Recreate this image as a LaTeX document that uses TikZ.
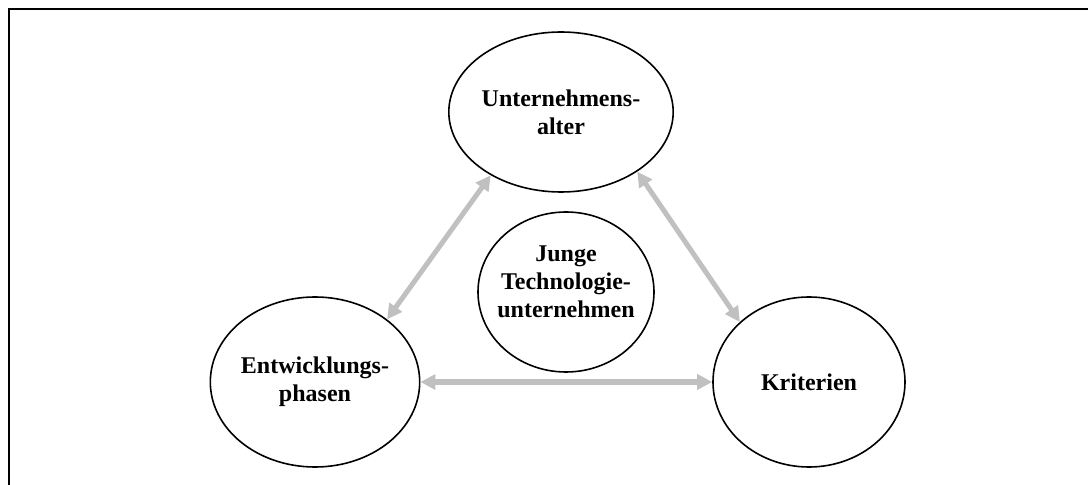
\documentclass[tikz,border=0pt]{standalone}
\usepackage{fontspec}
\setmainfont{Liberation Serif}
\usetikzlibrary{shapes.geometric,arrows.meta}
\definecolor{linkgray}{RGB}{192,192,192}
\begin{document}
\begin{tikzpicture}[x=1bp,y=-1bp,
  bubbletext/.style={inner sep=0pt, align=center,
    font=\fontsize{24bp}{28bp}\selectfont\bfseries},
  bubble/.style={ellipse, draw=black, line width=1.6bp, bubbletext},
  link/.style={draw=linkgray, line width=5bp,
    {Triangle[length=15bp,width=15bp]}-{Triangle[length=15bp,width=15bp]}}]
  \useasboundingbox (0,0) rectangle (1088,485);
  % open frame: top and left edges only
  \draw[line width=2bp] (9,485) -- (9,9) -- (1088,9);
  % the four topics
  \node[bubble, minimum width=186bp, minimum height=160bp] (alter) at (561,112) {Unternehmens-\\alter};
  \node[bubble, minimum width=176bp, minimum height=160bp] (jtu) at (566,292) {};
  \node[bubbletext] (jtulabel) at ([yshift=10bp]jtu.center) {Junge\\Technologie-\\unternehmen};
  \node[bubble, minimum width=194bp, minimum height=170bp] (phasen) at (315,382) {Entwicklungs-\\phasen};
  \node[bubble, minimum width=192bp, minimum height=170bp] (krit) at (809,382) {Kriterien};
  % mutual relations
  \draw[link] (phasen.41) -- (alter.222);
  \draw[link] (alter.322) -- (krit.139);
  \draw[link] (phasen.east) -- (krit.west);
\end{tikzpicture}
\end{document}
